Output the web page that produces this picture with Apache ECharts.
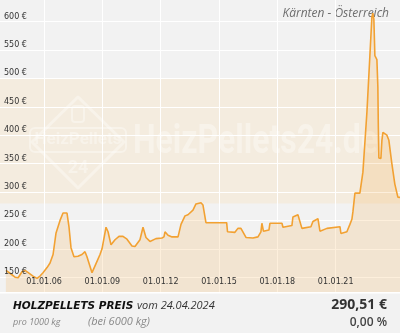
<!DOCTYPE html>
<html>
<head>
<meta charset="utf-8">
<script src="https://cdn.jsdelivr.net/npm/echarts@6/dist/echarts.min.js"></script>
<style>
  html, body { margin: 0; padding: 0; background: #f2f2f2; }
  #chart { width: 400px; height: 333px; }
</style>
</head>
<body>
<div id="chart"></div>
<script>
// Weekly pellet price per 1000 kg (EUR), Kärnten
const dates = [
  '2004-01-15','2004-04-01','2004-07-05','2004-09-01','2004-11-15','2005-01-10','2005-02-15','2005-06-08',
  '2005-08-22','2005-10-17','2005-12-12','2006-02-26','2006-04-23','2006-06-19','2006-08-14','2006-10-28',
  '2006-12-23','2007-03-08','2007-04-15','2007-05-22','2007-07-17','2007-09-30','2007-12-14','2008-02-09',
  '2008-03-17','2008-06-20','2008-09-03','2008-11-17','2008-12-25','2009-03-10','2009-04-17','2009-06-12',
  '2009-08-26','2009-11-09','2010-01-23','2010-04-08','2010-07-11','2010-09-05','2010-12-08','2011-02-03',
  '2011-03-31','2011-06-14','2011-10-04','2012-01-25','2012-03-03','2012-03-22','2012-05-18','2012-08-01',
  '2012-11-22','2013-01-17','2013-04-02','2013-05-28','2013-08-30','2013-10-25','2014-01-27','2014-03-06',
  '2014-05-01','2015-05-25','2015-06-10','2015-10-27','2015-12-22','2016-02-17','2016-05-22','2016-09-30',
  '2017-01-02','2017-02-27','2017-03-17','2017-04-15','2017-07-27','2017-08-15','2018-03-29','2018-04-17',
  '2018-10-02','2018-10-21','2019-01-23','2019-03-01','2019-04-08','2019-09-24','2019-11-01','2020-02-03',
  '2020-03-12','2020-07-21','2021-03-23','2021-04-10','2021-07-31','2021-09-26','2021-11-02','2021-11-21',
  '2021-12-29','2022-04-01','2022-05-28','2022-08-11','2022-10-06','2022-11-13','2022-12-01','2022-12-20',
  '2023-01-08','2023-02-15','2023-03-05','2023-03-14','2023-03-24','2023-05-01','2023-05-20','2023-06-08',
  '2023-08-22','2023-09-28','2023-11-23','2024-01-18','2024-03-15','2024-04-24'
];
const prices = [
  162, 157, 150, 149, 160, 162, 160, 152,
  148, 152, 158, 167, 175, 190, 228, 250,
  263, 263, 238, 202, 186, 187, 190, 195,
  186, 158, 174, 190, 200, 238, 230, 207,
  216, 222, 222, 217, 205, 204, 216, 238,
  220, 213, 218, 219, 221, 230, 224, 221,
  221, 243, 258, 260, 268, 279, 281, 277,
  246, 246, 230, 229, 236, 236, 220, 219,
  221, 230, 245, 231, 233, 245, 245, 238,
  241, 256, 260, 258, 236, 239, 248, 253,
  231, 236, 239, 227, 230, 243, 252, 265,
  298, 298, 335, 440, 540, 608, 615, 604,
  540, 533, 485, 414, 360, 359, 391, 405,
  400, 391, 350, 314, 291, 290.51
];

const yTicks = [150, 200, 250, 300, 350, 400, 450, 500, 550, 600];
const xTicks = ['2006-01-01', '2009-01-01', '2012-01-01', '2015-01-01', '2018-01-01', '2021-01-01'];
const bandRange = [280, 500];

const region = 'Kärnten - Österreich';
const heading = 'HOLZPELLETS PREIS';
const asOf = 'vom 24.04.2024';
const unitNote = 'pro 1000 kg';
const qtyNote = '(bei 6000 kg)';
const currentPrice = '290,51 €';
const change = '0,00 %';
const brand = 'HeizPellets24.de';

const ts = s => new Date(s + 'T00:00:00').getTime();
const pad = n => (n < 10 ? '0' : '') + n;
const fmtDate = v => {
  const d = new Date(v);
  return pad(d.getDate()) + '.' + pad(d.getMonth() + 1) + '.' + String(d.getFullYear()).slice(2);
};

const chart = echarts.init(document.getElementById('chart'), null, { renderer: 'canvas' });
const lineColor = '#f2a132';
const wm = 'rgba(255,255,255,0.36)';
const xMin = ts('2003-09-26');
const xMax = ts('2024-04-24');
const yMin = 124;
const yMax = 638;
const labelFont = { fontFamily: 'DejaVu Sans', fontSize: 8, color: '#333333' };

chart.setOption({
  animation: false,
  backgroundColor: '#f2f2f2',
  grid: { left: 0, right: 0, top: 0, bottom: 41 },
  xAxis: [
    {
      // grid lines only
      type: 'value', min: xMin, max: xMax, z: 0,
      axisLine: { show: false },
      axisTick: { show: false, customValues: xTicks.map(ts) },
      axisLabel: { show: false },
      splitLine: { show: true, lineStyle: { color: '#ffffff', width: 1 } }
    },
    {
      // date labels drawn above the area
      type: 'value', min: xMin, max: xMax, z: 5, position: 'bottom',
      axisLine: { show: false },
      axisTick: { show: false },
      splitLine: { show: false },
      axisLabel: Object.assign({
        inside: true, margin: 6,
        customValues: xTicks.map(ts),
        formatter: fmtDate
      }, labelFont)
    }
  ],
  yAxis: [
    {
      type: 'value', min: yMin, max: yMax, z: 0,
      axisLine: { show: false },
      axisTick: { show: false, customValues: yTicks },
      axisLabel: { show: false },
      splitLine: { show: true, lineStyle: { color: '#ffffff', width: 1 } }
    },
    {
      type: 'value', min: yMin, max: yMax, z: 5, position: 'left', offset: 0,
      axisLine: { show: false },
      axisTick: { show: false },
      splitLine: { show: false },
      axisLabel: Object.assign({
        inside: true, margin: 4, align: 'left', verticalAlign: 'bottom',
        padding: [0, 0, 1, 0],
        customValues: yTicks,
        formatter: v => v + ' €'
      }, labelFont)
    }
  ],
  series: [
    {
      // background band behind the grid lines
      type: 'line',
      z: -2,
      data: [],
      markArea: {
        silent: true,
        z: -2,
        itemStyle: { color: '#f4ecdf' },
        data: [[{ yAxis: bandRange[0] }, { yAxis: bandRange[1] }]]
      }
    },
    {
      type: 'line',
      z: 2,
      data: dates.map((d, i) => [ts(d), prices[i]]),
      symbol: 'none',
      lineStyle: { color: lineColor, width: 1.6 },
      areaStyle: { color: 'rgba(242,161,50,0.24)' }
    }
  ],
  graphic: [
    // brand watermark
    {
      type: 'polygon', z: 1, silent: true,
      shape: { points: [[78, 97], [124, 142], [78, 188], [32, 142]] },
      style: { fill: null, stroke: wm, lineWidth: 3, lineJoin: 'round' }
    },
    {
      type: 'rect', z: 1, silent: true,
      shape: { x: 30, y: 128, width: 96, height: 24, r: 5 },
      style: { fill: null, stroke: wm, lineWidth: 2 }
    },
    {
      type: 'text', z: 1, silent: true, x: 78, y: 140,
      style: { text: 'HeizPellets', font: 'bold 17px "Liberation Sans Narrow", "Roboto", sans-serif', fill: wm, align: 'center', verticalAlign: 'middle' }
    },
    {
      type: 'text', z: 1, silent: true, x: 78, y: 168,
      style: { text: '24', font: 'bold 18px "Roboto", sans-serif', fill: wm, align: 'center', verticalAlign: 'middle' }
    },
    {
      type: 'rect', z: 1, silent: true,
      shape: { x: 72, y: 106, width: 12, height: 16, r: 3 },
      style: { fill: null, stroke: wm, lineWidth: 2 }
    },
    {
      type: 'text', z: 1, silent: true, x: 133, y: 143, scaleX: 0.78,
      style: { text: brand, font: 'bold 41px "Roboto", sans-serif', fill: wm, align: 'left', verticalAlign: 'middle' }
    },
    // region title
    {
      type: 'text', x: 389, y: 14,
      style: { text: region, font: 'italic 12px "Open Sans", sans-serif', fill: '#6e6e6e', align: 'right', verticalAlign: 'middle' }
    },
    // footer
    {
      type: 'rect', shape: { x: 0, y: 292, width: 400, height: 1.5 },
      style: { fill: '#ffffff' }
    },
    {
      type: 'text', x: 13, y: 306,
      style: { text: heading, font: 'oblique bold 10.5px "DejaVu Sans", sans-serif', fill: '#111111', align: 'left', verticalAlign: 'middle' }
    },
    {
      type: 'text', x: 137, y: 306,
      style: { text: asOf, font: 'italic 11px "Open Sans", sans-serif', fill: '#333333', align: 'left', verticalAlign: 'middle' }
    },
    {
      type: 'text', x: 13, y: 322,
      style: { text: unitNote, font: 'italic 9px "Open Sans", sans-serif', fill: '#888888', align: 'left', verticalAlign: 'middle' }
    },
    {
      type: 'text', x: 88, y: 322,
      style: { text: qtyNote, font: 'italic 11px "Open Sans", sans-serif', fill: '#888888', align: 'left', verticalAlign: 'middle' }
    },
    {
      type: 'text', x: 387, y: 305,
      style: { text: currentPrice, font: 'bold 14px "Open Sans", sans-serif', fill: '#333333', align: 'right', verticalAlign: 'middle' }
    },
    {
      type: 'text', x: 387, y: 323,
      style: { text: change, font: '600 12px "Open Sans", sans-serif', fill: '#444444', align: 'right', verticalAlign: 'middle' }
    }
  ]
});
</script>
</body>
</html>
